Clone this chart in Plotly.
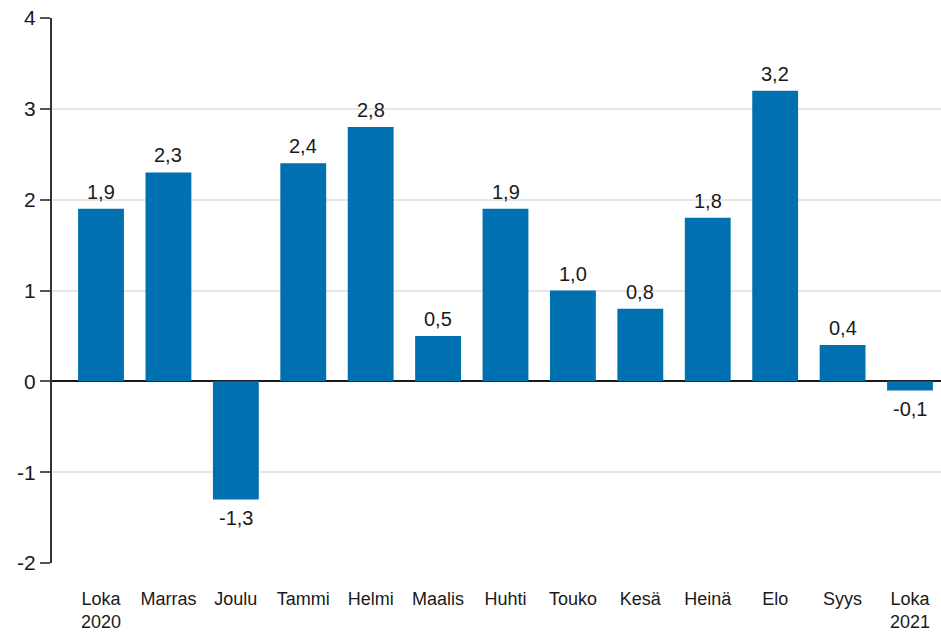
import plotly.graph_objects as go

categories = ["Loka<br>2020", "Marras", "Joulu", "Tammi", "Helmi", "Maalis", "Huhti",
              "Touko", "Kesä", "Heinä", "Elo", "Syys", "Loka<br>2021"]
values = [1.9, 2.3, -1.3, 2.4, 2.8, 0.5, 1.9, 1.0, 0.8, 1.8, 3.2, 0.4, -0.1]
y_ticks = [-2, -1, 0, 1, 2, 3, 4]

FONT = "Liberation Sans, Arial, sans-serif"

fig = go.Figure()
fig.add_trace(go.Bar(
    x=list(range(len(categories))),
    y=values,
    width=0.68,
    marker=dict(color="#0070b0", line=dict(width=0)),
    hoverinfo="skip",
))

for i, v in enumerate(values):
    label = f"{v:.1f}".replace(".", ",")
    fig.add_annotation(
        x=i, y=v, text=label, showarrow=False,
        yanchor="bottom" if v >= 0 else "top",
        yshift=4 if v >= 0 else -6,
        font=dict(family=FONT, size=20, color="#1a1a1a"),
    )

fig.update_layout(
    width=941, height=638,
    margin=dict(l=52, r=0, t=18, b=75),
    paper_bgcolor="white", plot_bgcolor="white",
    separators=", ",
    showlegend=False,
    font=dict(family=FONT, size=18, color="#1a1a1a"),
    xaxis=dict(
        tickmode="array",
        tickvals=list(range(len(categories))),
        ticktext=categories,
        range=[-0.727, 12.46],
        showgrid=False,
        zeroline=False,
        showline=False,
        ticks="",
        ticklabelstandoff=23,
        automargin=False,
        tickfont=dict(size=18, color="#1a1a1a"),
    ),
    yaxis=dict(
        range=[-2, 4],
        tickvals=y_ticks,
        ticktext=[str(v) for v in y_ticks],
        showgrid=True,
        gridcolor="#e6e6e6",
        gridwidth=1.5,
        zeroline=True,
        zerolinecolor="#1a1a1a",
        zerolinewidth=1.5,
        showline=True,
        linecolor="#333333",
        linewidth=2,
        ticks="outside",
        ticklen=10,
        tickwidth=2,
        tickcolor="#555555",
        automargin=False,
        tickfont=dict(size=21, color="#1a1a1a"),
    ),
)

fig.write_html("out.html", config={"displayModeBar": False},
               post_script="document.body.style.margin='0';document.body.style.padding='0';")
